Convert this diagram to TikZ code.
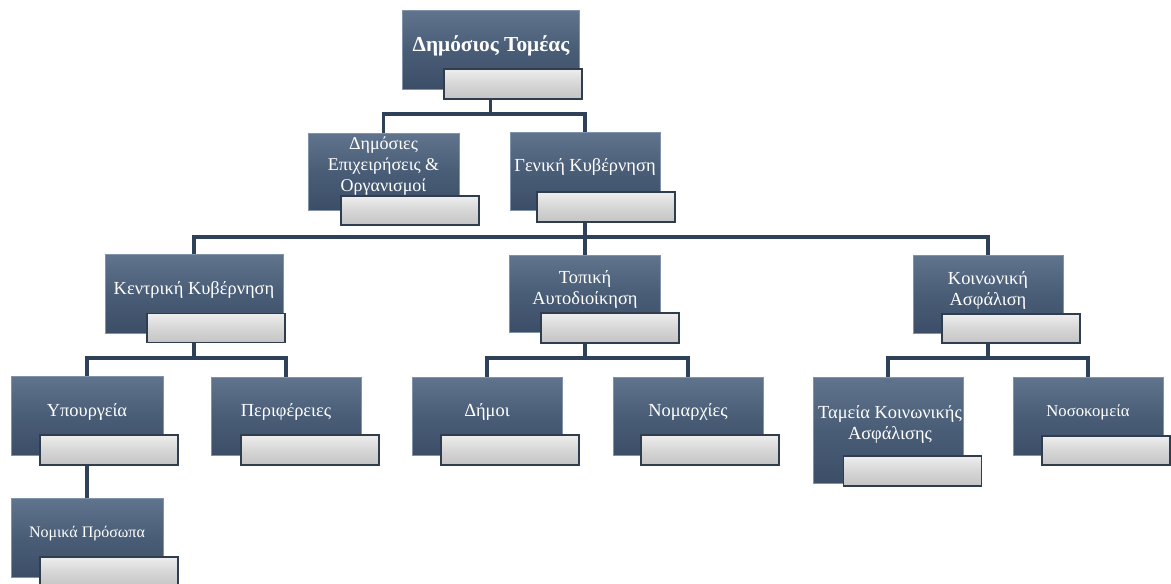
\documentclass[tikz,border=0pt]{standalone}
\usepackage{fontspec}
\setmainfont{Liberation Serif}
\usetikzlibrary{calc}
\pgfdeclarelayer{bg}
\pgfsetlayers{bg,main}
\definecolor{boxtop}{HTML}{61748D}
\definecolor{boxmid}{HTML}{4A5D77}
\definecolor{boxbot}{HTML}{3C4E67}
\definecolor{boxedge}{HTML}{7F93AB}
\definecolor{bartop}{HTML}{EEEEEE}
\definecolor{barmid}{HTML}{D6D6D6}
\definecolor{barbot}{HTML}{C4C4C4}
\definecolor{baredge}{HTML}{2F3D4F}
\definecolor{linecol}{HTML}{2F4159}
\tikzset{
  bx/.style={draw=boxedge, line width=0.5pt, top color=boxtop, bottom color=boxbot, middle color=boxmid,
    inner sep=0pt, minimum width=150*0.75pt, minimum height=78*0.75pt},
  barbox/.style={draw=baredge, line width=1.3pt, top color=bartop, bottom color=barbot, middle color=barmid,
    inner sep=0pt, minimum width=138*0.75pt, minimum height=29*0.75pt},
  txt/.style={text=white, align=center, inner sep=0pt, font=\fontsize{13.8}{15.8}\selectfont},
  conn/.style={draw=linecol, line width=2.4pt}
}
\begin{document}
\begin{tikzpicture}[x=0.75pt,y=-0.75pt]
\useasboundingbox (0,0) rectangle (1171,583);
\begin{scope}
\clip (0,0) rectangle (1171,583);
% level 0
\node[bx, minimum width=177*0.75pt, minimum height=79*0.75pt] (root) at (490.5,49.5) {};
\node[txt, font=\bfseries\fontsize{16}{18}\selectfont] (root-t) at (491,46) {Δημόσιος Τομέας};
\node[barbox, minimum height=30*0.75pt] (root-b) at (513,84) {};
% level 1
\node[bx, minimum width=151*0.75pt, minimum height=77*0.75pt] (dem) at (383.5,171.5) {};
\node[txt, font=\fontsize{13.5}{15.5}\selectfont] (dem-t) at (383.5,166) {Δημόσιες\\Επιχειρήσεις \&\\Οργανισμοί};
\node[barbox] (dem-b) at (410,210.5) {};
\node[bx] (gen) at (585,171) {};
\node[txt] (gen-t) at (585,167) {Γενική Κυβέρνηση};
\node[barbox, minimum height=30*0.75pt] (gen-b) at (606,207) {};
% level 2
\node[bx, minimum width=178*0.75pt, minimum height=79*0.75pt] (kent) at (194,293.5) {};
\node[txt] (kent-t) at (194,290) {Κεντρική Κυβέρνηση};
\node[barbox] (kent-b) at (216,328) {};
\node[bx, minimum width=151*0.75pt, minimum height=77*0.75pt] (loc) at (585,293.5) {};
\node[txt] (loc-t) at (585,289) {Τοπική\\Αυτοδιοίκηση};
\node[barbox, minimum height=30*0.75pt] (loc-b) at (610,328) {};
\node[bx] (koin) at (988,294) {};
\node[txt] (koin-t) at (988,290) {Κοινωνική\\Ασφάλιση};
\node[barbox] (koin-b) at (1011,328.5) {};
% level 3
\node[bx, minimum width=152*0.75pt, minimum height=79*0.75pt] (ypo) at (87,415.5) {};
\node[txt] (ypo-t) at (87,412) {Υπουργεία};
\node[barbox, minimum height=30*0.75pt] (ypo-b) at (109,450) {};
\node[bx] (per) at (286,416) {};
\node[txt] (per-t) at (286,412) {Περιφέρειες};
\node[barbox, minimum height=30*0.75pt] (per-b) at (310,450) {};
\node[bx] (dim) at (487,416) {};
\node[txt] (dim-t) at (487,412) {Δήμοι};
\node[barbox, minimum height=30*0.75pt] (dim-b) at (510,450) {};
\node[bx] (nom) at (688,416) {};
\node[txt] (nom-t) at (688,412) {Νομαρχίες};
\node[barbox, minimum height=30*0.75pt] (nom-b) at (710,450) {};
\node[bx, minimum height=106*0.75pt] (tam) at (888,430) {};
\node[txt] (tam-t) at (890,424) {Ταμεία Κοινωνικής\\Ασφάλισης};
\node[barbox, minimum height=30*0.75pt] (tam-b) at (912.5,471) {};
\node[bx] (nos) at (1088,416) {};
\node[txt, font=\fontsize{12.5}{15}\selectfont] (nos-t) at (1088,412) {Νοσοκομεία};
\node[barbox, minimum width=128*0.75pt] (nos-b) at (1106,450.5) {};
% level 4
\node[bx, minimum width=152*0.75pt, minimum height=79*0.75pt] (nomp) at (87,537.5) {};
\node[txt, font=\fontsize{12}{14}\selectfont] (nomp-t) at (87,534) {Νομικά Πρόσωπα};
\node[barbox, minimum height=30*0.75pt] (nomp-b) at (109,572) {};
\end{scope}
% bus coordinates
\coordinate (bus1) at (0,114);
\coordinate (bus2) at (0,237);
\coordinate (bus3) at (0,358);
\begin{pgfonlayer}{bg}
\draw[conn] (root.center) -- (root.center |- bus1) -| (dem.north);
\draw[conn] (root.center |- bus1) -| (gen.north);
\draw[conn] (gen.center) -- (gen.center |- bus2) -| (kent.north);
\draw[conn] (gen.center |- bus2) -| (koin.north);
\draw[conn] (gen.center |- bus2) -- (loc.north);
\draw[conn] (kent.center) -- (kent.center |- bus3) -| (ypo.north);
\draw[conn] (kent.center |- bus3) -| (per.north);
\draw[conn] (loc.center) -- (loc.center |- bus3) -| (dim.north);
\draw[conn] (loc.center |- bus3) -| (nom.north);
\draw[conn] (koin.center) -- (koin.center |- bus3) -| (tam.north);
\draw[conn] (koin.center |- bus3) -| (nos.north);
\draw[conn] (ypo.center) -- (nomp.north);
\end{pgfonlayer}
\end{tikzpicture}
\end{document}
